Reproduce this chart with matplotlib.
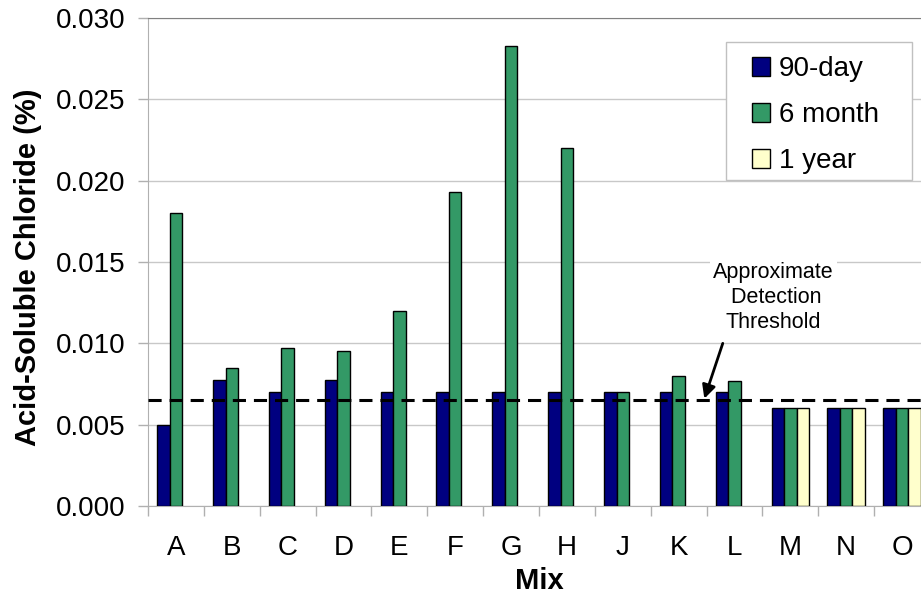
import numpy as np
import matplotlib
matplotlib.use('Agg')
import matplotlib.pyplot as plt
from matplotlib.patches import Rectangle

# Dati
mixes = ['A', 'B', 'C', 'D', 'E', 'F', 'G', 'H', 'J', 'K', 'L', 'M', 'N', 'O']
day90 = [0.005, 0.00775, 0.007, 0.00775, 0.007, 0.007, 0.007, 0.007,
         0.007, 0.007, 0.007, 0.006, 0.006, 0.006]
month6 = [0.018, 0.0085, 0.0097, 0.0095, 0.012, 0.0193, 0.0283, 0.022,
          0.007, 0.008, 0.0077, 0.006, 0.006, 0.006]
year1 = [np.nan] * 11 + [0.006, 0.006, 0.006]
series_names = ['90-day', '6 month', '1 year']
threshold = 0.0065

plt.rcParams.update({
    "font.family": ["Liberation Sans", "DejaVu Sans"],
    "font.size": 20,
})

colors = ['#000080', '#339966', '#FFFFCC']

fig = plt.figure(figsize=(9.21, 5.94), dpi=100)
ax = fig.add_axes([148 / 921, 88 / 594, 782 / 921, 488 / 594])

x = np.arange(len(mixes))
w = 0.224
for i, (vals, name, col) in enumerate(zip([day90, month6, year1], series_names, colors)):
    vals = np.array(vals, dtype=float)
    ok = ~np.isnan(vals)
    ax.bar(x[ok] + (i - 1) * w, vals[ok], w, color=col, edgecolor='black',
           linewidth=1.0, label=name, zorder=3)

# Soglia di rilevabilità
ax.axhline(threshold, color='black', linewidth=2.2, linestyle=(0, (4.3, 2.6)),
           zorder=4)

ax.text(10.70, 0.0128, 'Approximate\n Detection\nThreshold', ha='center',
        va='center', fontsize=15.5, multialignment='center', linespacing=1.25,
        bbox=dict(facecolor='white', edgecolor='none', pad=2), zorder=5)
ax.annotate('', xy=(9.46, 0.0066), xytext=(9.79, 0.0100),
            arrowprops=dict(arrowstyle='-|>', color='black', lw=2,
                            mutation_scale=20, shrinkA=0, shrinkB=0),
            zorder=5)

# Assi
ax.set_xlim(-0.5, len(mixes) - 0.5)
ax.set_ylim(0, 0.030)
ax.set_yticks(np.arange(0, 0.0301, 0.005))
ax.yaxis.set_major_formatter(matplotlib.ticker.FormatStrFormatter('%.3f'))
ax.set_xticks(x)
ax.set_xticklabels(mixes)
ax.set_xticks(np.arange(-0.5, len(mixes), 1), minor=True)
ax.tick_params(axis='x', which='major', length=0, pad=21)
ax.tick_params(axis='x', which='minor', length=7, color='#b0b0b0', width=1)
ax.tick_params(axis='y', which='major', length=7, color='#b0b0b0', width=1, pad=9)

ax.grid(axis='y', color='#c8c8c8', linewidth=1, zorder=0)
ax.set_axisbelow(True)
for s in ['left', 'bottom']:
    ax.spines[s].set_color('#b0b0b0')
ax.spines['top'].set_color('#808080')
ax.spines['right'].set_visible(False)

ax.set_ylabel('Acid-Soluble Chloride (%)', fontweight='bold', fontsize=21)
ax.yaxis.set_label_coords(-0.136, 0.49)
ax.set_xlabel('Mix', fontweight='bold', fontsize=21)
ax.xaxis.set_label_coords(0.5, -0.125)

# Legenda
ax.add_patch(Rectangle((726 / 921, 1 - 180 / 594), 186 / 921, 138 / 594,
                       transform=fig.transFigure, facecolor='white',
                       edgecolor='#c0c0c0', linewidth=1, zorder=6, clip_on=False))
leg = ax.legend(loc='upper left', bbox_to_anchor=(752 / 921, 1 - 56 / 594),
                bbox_transform=fig.transFigure, frameon=False, borderpad=0,
                borderaxespad=0, handlelength=0.66, handleheight=0.66,
                handletextpad=0.3, labelspacing=0.72, fontsize=20)
leg.set_zorder(7)

plt.savefig('out.png', dpi=100)
